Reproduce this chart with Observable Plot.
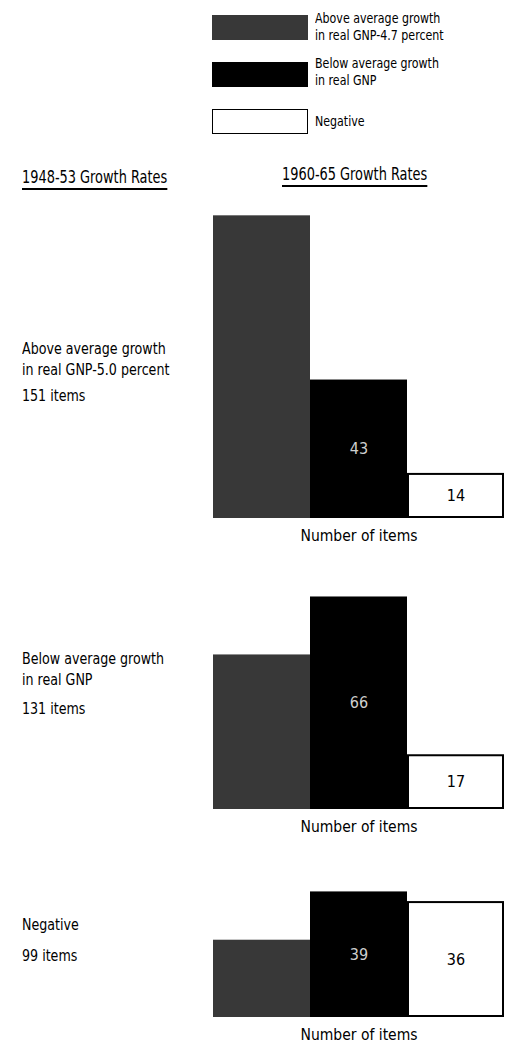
<!DOCTYPE html>
<html><head><meta charset="utf-8">
<script src="https://cdn.jsdelivr.net/npm/d3@7"></script>
<script src="https://cdn.jsdelivr.net/npm/@observablehq/plot@0.6"></script>
<style>
body{margin:0;background:#fff;}
#page{position:relative;width:515px;height:1045px;overflow:hidden;font-family:"Liberation Sans Narrow","DejaVu Sans Condensed",sans-serif;color:#000;}
.abs{position:absolute;white-space:nowrap;transform-origin:0 0;}
.sw{position:absolute;width:96px;height:25px;box-sizing:border-box;}
.lg{font-size:13.5px;line-height:17px;transform:scaleX(0.91);}
.hd{font-size:17px;line-height:20px;padding-bottom:1px;border-bottom:2px solid #000;transform:scaleX(0.845);}
.gl{font-size:16px;line-height:21px;transform:scaleX(0.88);}
.plot{position:absolute;left:0;}
</style></head>
<body><div id="page"></div>
<script>
// ---- data ----
const categories = ["above", "below", "negative"];
const legendLabels = [["Above average growth", "in real GNP-4.7 percent"], ["Below average growth", "in real GNP"], ["Negative"]];
const headers = ["1948-53 Growth Rates", "1960-65 Growth Rates"];
const groupLabels = [["Above average growth", "in real GNP-5.0 percent"], ["Below average growth", "in real GNP"], ["Negative"]];
const groupTotals = [151, 131, 99];
const aboveValues = [94, 48, 24];
const belowValues = [43, 66, 39];
const negativeValues = [14, 17, 36];
const axisLabel = "Number of items";

// ---- styles / layout ----
const colors = {above: "#383838", below: "#000000", negative: "#ffffff"};
const K = 3.22; // px per item
const page = document.getElementById("page");
function add(html, cls, left, top) {
  const d = document.createElement("div");
  d.className = "abs " + cls;
  d.style.left = left + "px"; d.style.top = top + "px";
  d.innerHTML = html;
  page.appendChild(d);
  return d;
}
// legend
const swTops = [15, 62, 109];
const lgTops = [10, 55, 113];
categories.forEach((c, i) => {
  const s = document.createElement("div");
  s.className = "sw";
  s.style.left = "212px"; s.style.top = swTops[i] + "px";
  s.style.background = colors[c];
  if (c === "negative") s.style.border = "1.5px solid #000";
  page.appendChild(s);
  add(legendLabels[i].join("<br>"), "lg", 315, lgTops[i]);
});
// headers
add(headers[0], "hd", 22, 167);
add(headers[1], "hd", 282, 164);

// groups
const layout = [
  {top: 200, height: 345, base: 318, labelTop: 338, itemsTop: 385},
  {top: 560, height: 290, base: 249, labelTop: 648, itemsTop: 698},
  {top: 870, height: 175, base: 147, labelTop: 914, itemsTop: 945}
];
groupTotals.forEach((total, g) => {
  const L = layout[g];
  add(groupLabels[g].join("<br>"), "gl", 22, L.labelTop);
  add(total + " items", "gl", 22, L.itemsTop);
  const rows = [
    {cat: "above", value: aboveValues[g]},
    {cat: "below", value: belowValues[g]},
    {cat: "negative", value: negativeValues[g]}
  ];
  const chart = Plot.plot({
    width: 515, height: L.height, margin: 0,
    style: {fontFamily: '"Liberation Sans Narrow","DejaVu Sans Condensed",sans-serif', background: "transparent"},
    x: {domain: categories, range: [213, 504], padding: 0, axis: null},
    y: {domain: [0, 100], range: [L.base, L.base - 100 * K], axis: null},
    color: {type: "identity"},
    marks: [
      Plot.barY(rows.filter(d => d.cat !== "negative"), {x: "cat", y: "value", fill: d => colors[d.cat]}),
      Plot.barY(rows.filter(d => d.cat === "negative"), {x: "cat", y: "value", fill: "#fff", stroke: "#000", strokeWidth: 2, inset: 1}),
      Plot.text(rows.filter(d => d.cat !== "above"), {
        x: "cat", y: d => d.value / 2, text: d => String(d.value),
        fill: d => d.cat === "below" ? "#cfcfcf" : "#000",
        fontSize: 16
      }),
      Plot.text([{cat: "below", label: axisLabel}], {x: "cat", y: () => 0, text: "label", dy: 18, fontSize: 15.5, fill: "#000"})
    ]
  });
  chart.classList.add("plot");
  chart.style.top = L.top + "px";
  chart.style.position = "absolute";
  page.appendChild(chart);
});
</script>
</body></html>
